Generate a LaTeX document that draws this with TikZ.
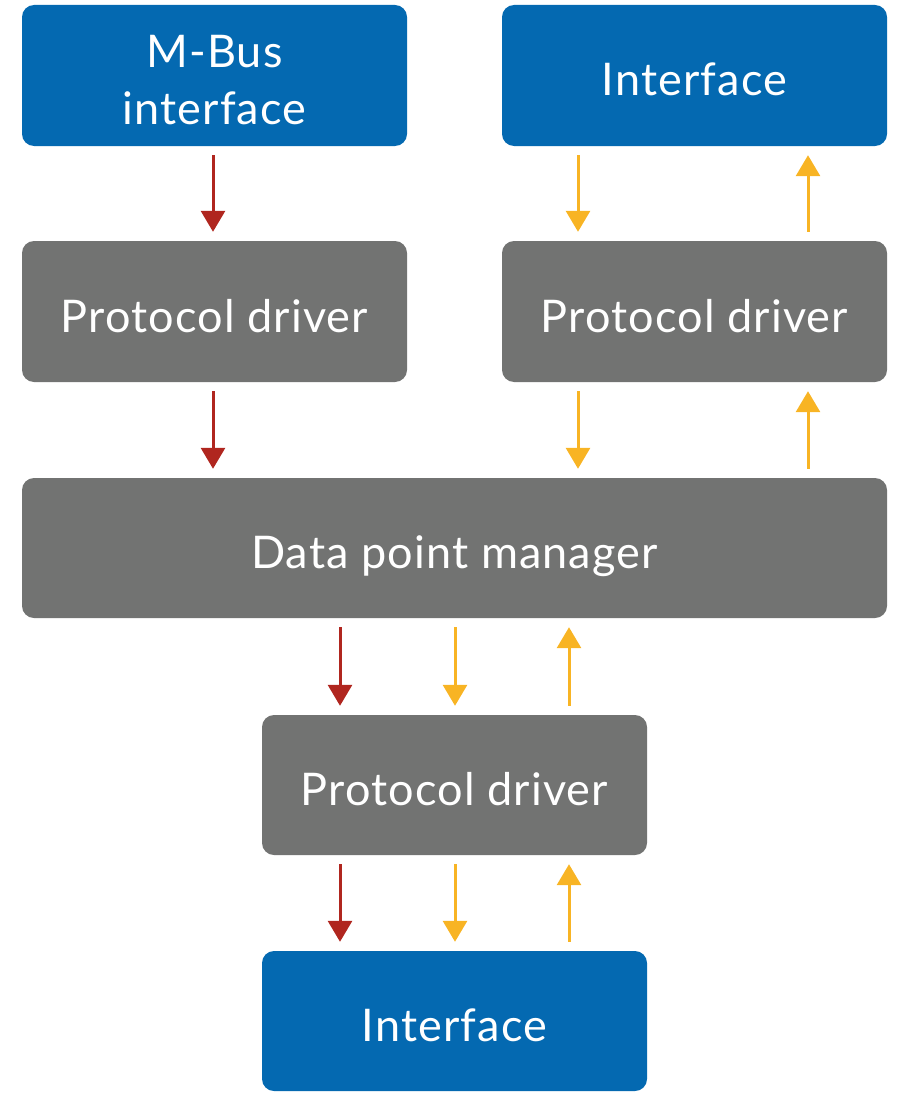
\documentclass[tikz,border=0pt]{standalone}
\usepackage{fontspec}
\setmainfont{Lato}[LetterSpace=2.5]
\usetikzlibrary{arrows.meta}
\definecolor{boxblue}{HTML}{0469B1}
\definecolor{boxgray}{HTML}{727372}
\definecolor{arrred}{HTML}{B0261F}
\definecolor{arryel}{HTML}{F8B424}
\begin{document}
\begin{tikzpicture}[x=1pt,y=-1pt,
  box/.style={rounded corners=12pt, minimum width=385pt, minimum height=141pt, text=white, align=center,
    inner sep=0pt, text height=41pt, text depth=0pt, font=\fontsize{45}{57}\selectfont},
  bluebox/.style={box, fill=boxblue},
  graybox/.style={box, fill=boxgray},
  flow/.style={line width=3pt, -{Triangle[width=24pt,length=21pt]}, shorten >=9pt, shorten <=9pt},
  redflow/.style={flow, draw=arrred},
  yelflow/.style={flow, draw=arryel}]
\useasboundingbox (0,0) rectangle (897,1097);
\node[bluebox, text height=98pt] (mbus) at (214.5,75.5) {M-Bus\\interface};
\node[bluebox] (itop) at (694.5,75.5) {Interface};
\node[graybox] (pdl) at (214.5,311.5) {Protocol driver};
\node[graybox] (pdr) at (694.5,311.5) {Protocol driver};
\node[graybox, minimum width=865pt, minimum height=140pt] (dpm) at (454.5,548) {Data point manager};
\node[graybox, minimum height=140pt] (pdb) at (454.5,785) {Protocol driver};
\node[bluebox, minimum height=140pt] (ibot) at (454.5,1021) {Interface};
\coordinate (xa) at (213,0);
\coordinate (xb) at (578,0);
\coordinate (xc) at (808,0);
\coordinate (xd) at (340,0);
\coordinate (xe) at (455,0);
\coordinate (xf) at (569,0);
\draw[redflow] (mbus.south -| xa) -- (pdl.north -| xa);
\draw[redflow] (pdl.south -| xa) -- (dpm.north -| xa);
\draw[yelflow] (itop.south -| xb) -- (pdr.north -| xb);
\draw[yelflow] (pdr.north -| xc) -- (itop.south -| xc);
\draw[yelflow] (pdr.south -| xb) -- (dpm.north -| xb);
\draw[yelflow] (dpm.north -| xc) -- (pdr.south -| xc);
\draw[redflow] (dpm.south -| xd) -- (pdb.north -| xd);
\draw[yelflow] (dpm.south -| xe) -- (pdb.north -| xe);
\draw[yelflow] (pdb.north -| xf) -- (dpm.south -| xf);
\draw[redflow] (pdb.south -| xd) -- (ibot.north -| xd);
\draw[yelflow] (pdb.south -| xe) -- (ibot.north -| xe);
\draw[yelflow] (ibot.north -| xf) -- (pdb.south -| xf);
\end{tikzpicture}
\end{document}
